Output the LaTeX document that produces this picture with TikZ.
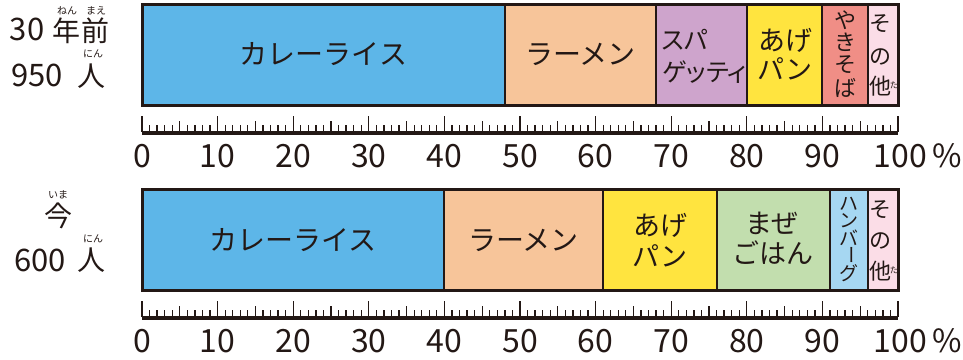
\documentclass[tikz,border=0pt]{standalone}
\usepackage{fontspec}
\setmainfont{Noto Sans CJK JP}
\newfontfamily\pfont[RawFeature=+palt]{Noto Sans CJK JP}
\definecolor{ink}{RGB}{35,24,21}
\definecolor{cBlue}{RGB}{93,182,232}
\definecolor{cPeach}{RGB}{247,197,154}
\definecolor{cLilac}{RGB}{206,164,204}
\definecolor{cYellow}{RGB}{255,228,63}
\definecolor{cSalmon}{RGB}{240,142,134}
\definecolor{cPink}{RGB}{251,221,231}
\definecolor{cGreen}{RGB}{194,222,174}
\definecolor{cSky}{RGB}{166,215,242}
\begin{document}
\begin{tikzpicture}[x=1pt,y=-1pt,
  every node/.style={inner sep=0pt,text=ink},
  lbl/.style={font=\fontsize{28}{28}\selectfont},
  mid/.style={font=\fontsize{27}{27}\selectfont},
  vert/.style={font=\fontsize{22}{22}\selectfont},
  hamb/.style={font=\fontsize{19}{19}\selectfont},
  ruby/.style={font=\fontsize{10}{10}\selectfont},
  tiny/.style={font=\fontsize{8.5}{8.5}\selectfont},
  num/.style={font=\fontsize{32}{32}\selectfont},
  side/.style={font=\fontsize{28}{28}\selectfont},
  sidenum/.style={font=\fontsize{31}{31}\selectfont},
  sep/.style={draw=ink,line width=2pt},
  frame/.style={draw=ink,line width=3pt},
  tick/.style={draw=ink,line width=1.3pt}]
\useasboundingbox (0,0) rectangle (963,359);

% ---------- top bar (30 years ago) ----------
\fill[cBlue]   (142,4) rectangle (504.9,105);
\fill[cPeach]  (504.9,4) rectangle (656.1,105);
\fill[cLilac]  (656.1,4) rectangle (746.8,105);
\fill[cYellow] (746.8,4) rectangle (822.4,105);
\fill[cSalmon] (822.4,4) rectangle (867.8,105);
\fill[cPink]   (867.8,4) rectangle (898,105);
\foreach \x in {504.9,656.1,746.8,822.4,867.8} \draw[sep] (\x,4) -- (\x,105);
\draw[frame] (142,4) rectangle (898,105);

\node[lbl] (t1) at (323.5,54) {カレーライス};
\node[lbl] (t2) at (580.5,54) {ラーメン};
\node[font=\fontsize{25}{25}\selectfont\pfont,anchor=west] (t3a) at (662,40) {スパ};
\node[font=\fontsize{25}{25}\selectfont\pfont,anchor=west] (t3b) at (662,72) {ゲッティ};
\node[mid] (t4a) at (785,40) {あげ};
\node[mid] (t4b) at (785,69) {パン};
\node[vert] (t5a) at (845,20) {や};
\node[vert] (t5b) at (845,42.5) {き};
\node[vert] (t5c) at (845,65) {そ};
\node[vert] (t5d) at (845,88) {ば};
\node[vert] (t6a) at (880,24) {そ};
\node[vert] (t6b) at (880,56.5) {の};
\node[vert] (t6c) at (880,86) {他};
\node[tiny] (t6r) at (894,85) {た};

% ---------- top ruler ----------
\fill[ink] (142,131) rectangle (898,135);
\foreach \i in {0,...,100}{
  \pgfmathsetmacro\xx{142+7.56*\i}
  \pgfmathsetmacro\tl{mod(\i,10)==0 ? 16 : (mod(\i,5)==0 ? 11 : 7)}
  \draw[tick] (\xx,132) -- ++(0,-\tl);
}
\foreach \i in {0,10,...,90}{
  \pgfmathsetmacro\xx{142+7.56*\i}
  \node[num] (ta\i) at (\xx,156) {\i};
}
\node[num] (ta100) at (918,156) {100\,\%};

% ---------- bottom bar (now) ----------
\fill[cBlue]   (142,189) rectangle (444.4,290);
\fill[cPeach]  (444.4,189) rectangle (603.2,290);
\fill[cYellow] (603.2,189) rectangle (716.6,290);
\fill[cGreen]  (716.6,189) rectangle (830,290);
\fill[cSky]    (830,189) rectangle (867.8,290);
\fill[cPink]   (867.8,189) rectangle (898,290);
\foreach \x in {444.4,603.2,716.6,830,867.8} \draw[sep] (\x,189) -- (\x,290);
\draw[frame] (142,189) rectangle (898,290);

\node[lbl] (b1) at (293,240) {カレーライス};
\node[lbl] (b2) at (523.5,240) {ラーメン};
\node[mid] (b3a) at (660,225) {あげ};
\node[mid] (b3b) at (660,256) {パン};
\node[mid] (b4a) at (772,223) {まぜ};
\node[mid] (b4b) at (773,253) {ごはん};
\node[hamb] (b5a) at (849,204) {ハ};
\node[hamb] (b5b) at (849,221) {ン};
\node[hamb] (b5c) at (849,238) {バ};
\node[hamb,rotate=-90] (b5d) at (849,255) {ー};
\node[hamb] (b5e) at (849,273) {グ};
\node[vert] (b6a) at (880,210) {そ};
\node[vert] (b6b) at (880,241) {の};
\node[vert] (b6c) at (880,271) {他};
\node[tiny] (b6r) at (894,270) {た};

% ---------- bottom ruler ----------
\fill[ink] (142,316) rectangle (898,320);
\foreach \i in {0,...,100}{
  \pgfmathsetmacro\xx{142+7.56*\i}
  \pgfmathsetmacro\tl{mod(\i,10)==0 ? 16 : (mod(\i,5)==0 ? 11 : 7)}
  \draw[tick] (\xx,317) -- ++(0,-\tl);
}
\foreach \i in {0,10,...,90}{
  \pgfmathsetmacro\xx{142+7.56*\i}
  \node[num] (ba\i) at (\xx,341) {\i};
}
\node[num] (ba100) at (918,341) {100\,\%};

% ---------- left labels ----------
\node[sidenum] (l30) at (27,29) {30};
\node[side] (lnen) at (66,31) {年};
\node[side] (lmae) at (95,31) {前};
\node[ruby] (rnen) at (67,11) {ねん};
\node[ruby] (rmae) at (96,11) {まえ};
\node[sidenum] (l950) at (37,75) {950};
\node[side] (lnin1) at (91,76) {人};
\node[ruby] (rnin1) at (93,54) {にん};

\node[ruby] (rima) at (58,195) {いま};
\node[side] (lima) at (58,216) {今};
\node[sidenum] (l600) at (40,260) {600};
\node[side] (lnin2) at (91,260) {人};
\node[ruby] (rnin2) at (93,239) {にん};
\end{tikzpicture}
\end{document}
